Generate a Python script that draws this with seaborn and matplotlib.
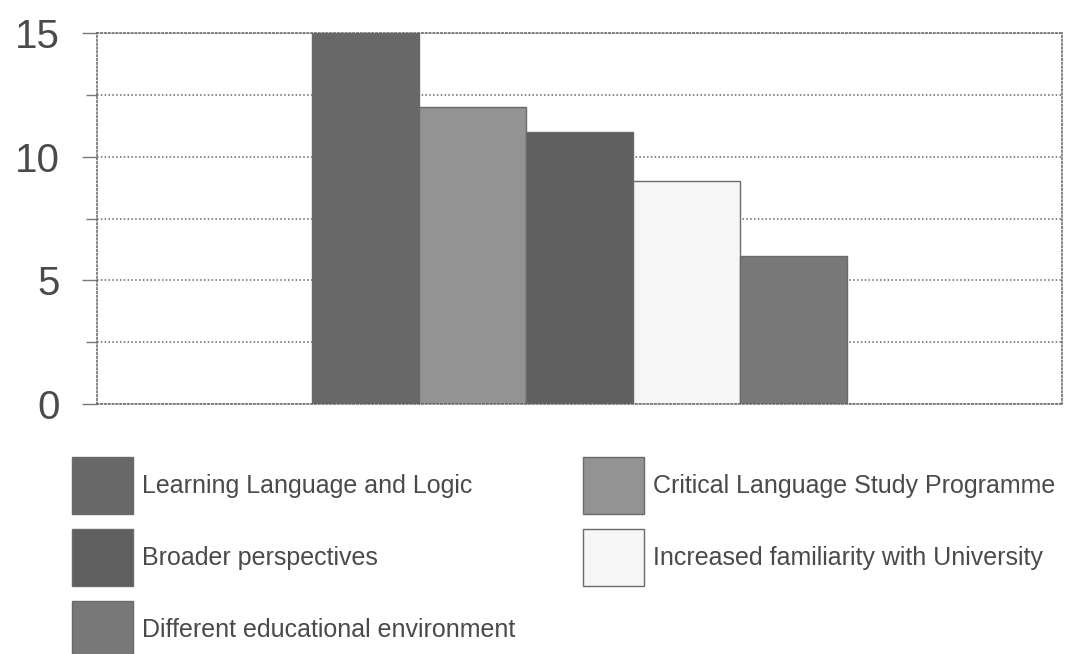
import matplotlib
matplotlib.use("Agg")
import matplotlib.pyplot as plt
import pandas as pd
import seaborn as sns

# Reasons given and how many respondents named each one
reasons = [
    "Learning Language and Logic",
    "Critical Language Study Programme",
    "Broader perspectives",
    "Increased familiarity with University",
    "Different educational environment",
]
counts = [15, 12, 11, 9, 6]
bar_colors = ["#686868", "#939393", "#5f5f5f", "#f6f6f6", "#787878"]
y_ticks = [0, 5, 10, 15]
y_minor = [2.5, 7.5, 12.5]

df = pd.DataFrame({"group": [""] * len(reasons), "reason": reasons, "count": counts})

sns.set_theme(style="white")
plt.rcParams["font.family"] = ["Liberation Sans", "DejaVu Sans"]

fig = plt.figure(figsize=(10.67, 6.54), dpi=100)
ax = fig.add_axes([0.0909, 0.3823, 0.9044, 0.5672])

sns.barplot(
    data=df, x="group", y="count", hue="reason", hue_order=reasons,
    palette=dict(zip(reasons, bar_colors)), width=0.555, gap=0,
    edgecolor="#6a6a6a", linewidth=1.0, saturation=1, ax=ax, legend=True,
)

ax.set_xlim(-0.5, 0.5)
ax.set_ylim(0, 15)
ax.set_yticks(y_ticks)
ax.set_yticks(y_minor, minor=True)
ax.set_yticklabels([str(t) for t in y_ticks], fontsize=29, color="#4a4a4a")
ax.set_xticks([])
ax.set_xlabel("")
ax.set_ylabel("")

grid_style = dict(color="#666666", linestyle=(0, (1, 1.5)), linewidth=1.1)
ax.yaxis.grid(True, which="both", **grid_style)
ax.set_axisbelow(True)
ax.tick_params(axis="y", which="both", direction="out", length=11, width=1.0,
               color="#7a7a7a", pad=16, left=True)
ax.tick_params(axis="y", which="minor", length=8)

for side in ["left", "right", "top", "bottom"]:
    sp = ax.spines[side]
    sp.set_visible(True)
    sp.set_color("#666666")
    sp.set_linestyle((0, (1, 1.5)))
    sp.set_linewidth(1.1)

# Legend below the plot, two columns filled row by row
handles, labels = ax.get_legend_handles_labels()
order = [0, 2, 4, 1, 3]
ax.get_legend().remove()
fig.legend(
    [handles[i] for i in order], [labels[i] for i in order],
    loc="upper left", bbox_to_anchor=(0.0675, 0.3012), ncol=2,
    frameon=False, fontsize=18, labelcolor="#4a4a4a",
    handlelength=2.44, handleheight=3.13, handletextpad=0.36,
    labelspacing=0.6, columnspacing=2.7, borderpad=0, borderaxespad=0,
)

fig.savefig("out.png", dpi=100, facecolor="white")
